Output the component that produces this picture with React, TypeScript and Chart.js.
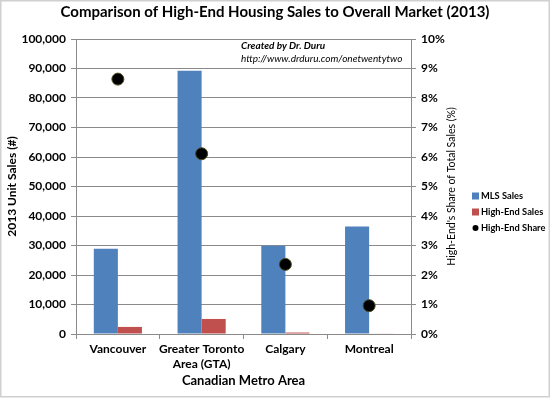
import React, { useEffect, useRef } from "react";
import { Chart, registerables } from "chart.js";

Chart.register(...registerables);

const categories: (string | string[])[] = ["Vancouver", ["Greater Toronto", "Area (GTA)"], "Calgary", "Montreal"];
const mlsSales = [28900, 89200, 29900, 36400];
const highEndSales = [2400, 5100, 500, 200];
const highEndShare = [8.64, 6.11, 2.36, 0.96];
const seriesNames = ["MLS Sales", "High-End Sales", "High-End Share"];
const chartTitle = "Comparison of High-End Housing Sales to Overall Market (2013)";
const leftAxisTitle = "2013 Unit Sales (#)";
const rightAxisTitle = "High-End's Share of Total Sales (%)";
const xAxisTitle = "Canadian Metro Area";
const creditLines = ["Created by Dr. Duru", "http://www.drduru.com/onetwentytwo"];

const BLUE = "#4F81BD";
const RED = "#C0504D";
const GRID = "#8a8a8a";
const FONT = "Lato, 'Open Sans', sans-serif";

export default function App() {
  const ref = useRef<HTMLCanvasElement | null>(null);

  useEffect(() => {
    document.body.style.margin = "0";
    const canvas = ref.current;
    if (!canvas) return;

    const decor = {
      id: "decor",
      beforeDraw(chart: any) {
        const { ctx, width, height } = chart;
        ctx.save();
        ctx.fillStyle = "#ffffff";
        ctx.fillRect(0, 0, width, height);
        ctx.restore();
      },
      afterDraw(chart: any) {
        const { ctx, width, height, chartArea } = chart;
        ctx.save();
        // outer border
        ctx.strokeStyle = "#d0d0d0";
        ctx.lineWidth = 1.5;
        ctx.strokeRect(0.75, 0.75, width - 1.5, height - 3);
        // right axis title (reads bottom to top)
        ctx.save();
        ctx.translate(451.5, (chartArea.top + chartArea.bottom) / 2);
        ctx.rotate(-Math.PI / 2);
        ctx.fillStyle = "#000";
        ctx.textAlign = "center";
        ctx.textBaseline = "middle";
        ctx.font = `10.5px ${FONT}`;
        ctx.fillText(rightAxisTitle, 0, 0);
        ctx.restore();
        // credit text
        ctx.fillStyle = "#000";
        ctx.textBaseline = "middle";
        ctx.textAlign = "left";
        ctx.font = `italic bold 10px ${FONT}`;
        ctx.fillText(creditLines[0], 241, 46);
        ctx.font = `italic 10px ${FONT}`;
        ctx.fillText(creditLines[1], 241, 59);
        // legend
        const lx = 472;
        const ys = [196, 212, 228];
        ctx.font = `bold 9.3px ${FONT}`;
        ctx.fillStyle = BLUE;
        ctx.fillRect(lx, ys[0] - 3.5, 7, 7);
        ctx.fillStyle = RED;
        ctx.fillRect(lx, ys[1] - 3.5, 7, 7);
        ctx.fillStyle = "#000";
        ctx.beginPath();
        ctx.arc(lx + 3.5, ys[2], 3, 0, Math.PI * 2);
        ctx.fill();
        ctx.fillStyle = "#000";
        seriesNames.forEach((n, i) => ctx.fillText(n, lx + 9, ys[i]));
        ctx.restore();
      },
    };

    const chart = new Chart(canvas, {
      type: "bar",
      data: {
        labels: categories as any,
        datasets: [
          {
            type: "line",
            label: seriesNames[2],
            data: highEndShare,
            yAxisID: "y1",
            showLine: false,
            pointRadius: 6,
            pointHoverRadius: 6,
            pointBackgroundColor: "#000",
            pointBorderColor: "#4a4a20",
            pointBorderWidth: 1,
            order: 0,
          } as any,
          {
            label: seriesNames[0],
            data: mlsSales,
            backgroundColor: BLUE,
            yAxisID: "y",
            barPercentage: 1,
            categoryPercentage: 0.575,
            order: 1,
          },
          {
            label: seriesNames[1],
            data: highEndSales,
            backgroundColor: RED,
            yAxisID: "y",
            barPercentage: 1,
            categoryPercentage: 0.575,
            order: 1,
          },
        ],
      },
      options: {
        responsive: false,
        animation: false,
        layout: { padding: 0 },
        plugins: {
          legend: { display: false },
          tooltip: { enabled: false },
          title: {
            display: true,
            text: chartTitle,
            color: "#000",
            font: { family: FONT, size: 15, weight: "bold" },
            padding: { top: 3, bottom: 18 },
          },
        },
        scales: {
          x: {
            grid: {
              offset: true,
              drawOnChartArea: false,
              drawTicks: true,
              tickLength: 5,
              tickColor: GRID,
            },
            border: { color: GRID },
            ticks: {
              color: "#000",
              padding: 3,
              maxRotation: 0,
              autoSkip: false,
              font: { family: FONT, size: 12, weight: "bold", lineHeight: 1.25 },
            },
            title: {
              display: true,
              text: xAxisTitle,
              color: "#000",
              font: { family: FONT, size: 13, weight: "bold" },
              padding: { top: 0, bottom: 10 },
            },
            afterFit: (s: any) => {
              s.height = 65;
            },
          },
          y: {
            position: "left",
            min: 0,
            max: 100000,
            ticks: {
              stepSize: 10000,
              color: "#000",
              padding: 5,
              font: { family: FONT, size: 12, weight: "bold" },
              callback: (v: any) => Number(v).toLocaleString("en-US"),
            },
            grid: { color: GRID, tickLength: 5, tickColor: GRID },
            border: { color: GRID },
            title: {
              display: true,
              text: leftAxisTitle,
              color: "#000",
              font: { family: FONT, size: 12, weight: "bold" },
              padding: { top: 5, bottom: 0 },
            },
            afterFit: (s: any) => {
              s.width = 76;
            },
          },
          y1: {
            position: "right",
            min: 0,
            max: 10,
            ticks: {
              stepSize: 1,
              color: "#000",
              padding: 5,
              font: { family: FONT, size: 12, weight: "bold" },
              callback: (v: any) => `${v}%`,
            },
            grid: { drawOnChartArea: false, tickLength: 5, tickColor: GRID },
            border: { color: GRID },
            title: { display: false, text: rightAxisTitle },
            afterFit: (s: any) => {
              s.width = 139;
            },
          },
        },
      },
      plugins: [decor],
    });

    return () => chart.destroy();
  }, []);

  return (
    <div style={{ width: 550, height: 399 }}>
      <canvas ref={ref} width={550} height={399} style={{ display: "block" }} />
    </div>
  );
}
